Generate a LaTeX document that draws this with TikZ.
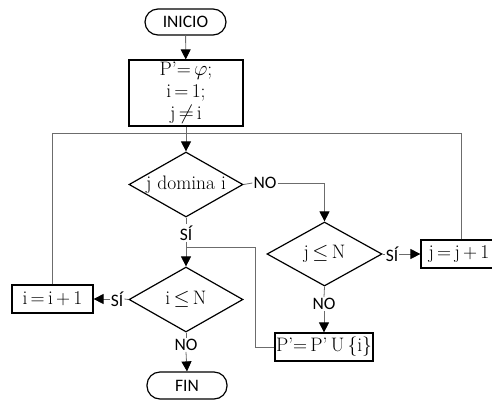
\documentclass[tikz,border=0pt]{standalone}
\usepackage{fontspec}
\newfontfamily\labfont{Carlito}
\usetikzlibrary{shapes.geometric,arrows.meta}
\begin{document}
\begin{tikzpicture}[x=1pt,y=-1pt,
  every node/.style={font=\fontsize{19.5}{22}\selectfont},
  term/.style={draw, line width=1.2pt, rectangle, rounded corners=13pt, minimum width=81pt, minimum height=26pt, inner sep=0pt, font=\labfont\fontsize{17.5}{21}\selectfont},
  proc/.style={draw, line width=1.2pt, rectangle, minimum height=28pt, inner sep=0pt, align=center},
  dec/.style={draw, line width=1.2pt, diamond, shape aspect=1.75, inner sep=0pt, minimum width=114pt, minimum height=65pt},
  lab/.style={inner sep=1pt, font=\labfont\fontsize{17.5}{21}\selectfont},
  conn/.style={draw=gray!85!black, line width=0.8pt},
  arr/.style={conn, -{Triangle[length=10pt,width=10pt,color=black]}}
]
\useasboundingbox (0,0) rectangle (492,400);
\node[term] (ini) at (185.5,22) {INICIO};
\node[proc, minimum width=114pt, minimum height=66pt] (p0) at (186,93) {P’=\,$\varphi$;\\ i\,=\,1;\\ j\,$\neq$\,i};
\node[dec] (dom) at (186,184.5) {j domina i};
\node[dec, minimum width=115pt, minimum height=64pt] (jle) at (324.5,254) {j\,$\leq$\,N};
\node[proc, minimum width=80pt] (jj) at (461,254) {\hspace*{-4pt}j\,=\,j\,+\,1};
\node[dec] (ile) at (186,299.5) {i\,$\leq$\,N};
\node[proc, minimum width=81pt] (ii) at (52.5,299) {i\,=\,i\,+\,1};
\node[proc, minimum width=98pt] (pp) at (324,347) {P’=\,P’\,U\,\{i\}};
\node[term, minimum width=80pt, minimum height=27pt] (fin) at (187,385.5) {FIN};

\node[lab] (no1) at (265,183) {NO};
\node[lab] (si1) at (186,233) {SÍ};
\node[lab] (si2) at (392,254) {SÍ};
\node[lab] (no2) at (324,304) {NO};
\node[lab] (si3) at (117,299) {SÍ};
\node[lab] (no3) at (186,345) {NO};

\coordinate (jn) at (186,133);
\coordinate (jn2) at (186,247);
\coordinate (pl) at (255,347);

\draw[arr] (ini) -- (p0);
\draw[arr] (p0) -- (dom);
\draw[conn] (jj.north) |- (jn);
\draw[conn] (ii.north) |- (jn);
\draw[conn] (dom.east) -- (no1.west);
\draw[arr] (no1.east) -| (jle.north);
\draw[conn] (dom.south) -- (si1.north);
\draw[arr] (si1.south) -- (ile.north);
\draw[conn] (jle.east) -- (si2.west);
\draw[arr] (si2.east) -- (jj.west);
\draw[conn] (jle.south) -- (no2.north);
\draw[arr] (no2.south) -- (pp.north);
\draw[conn] (pp.west) -- (pl) |- (jn2);
\draw[conn] (ile.west) -- (si3.east);
\draw[arr] (si3.west) -- (ii.east);
\draw[conn] (ile.south) -- (no3.north);
\draw[arr] (no3.south) -- (fin.north);
\end{tikzpicture}
\end{document}
